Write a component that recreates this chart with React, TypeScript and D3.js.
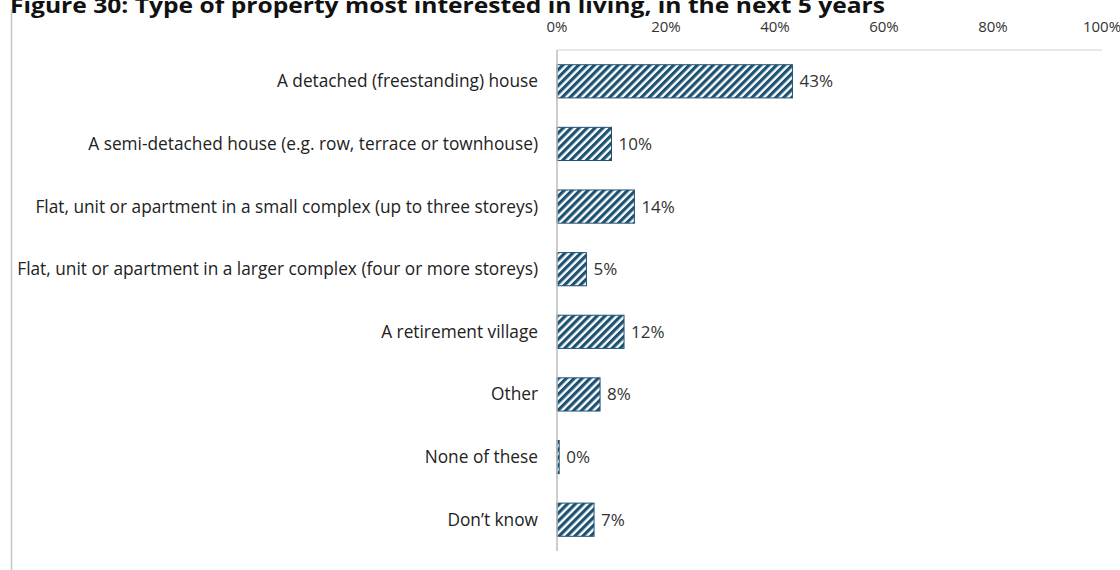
import React from "react";
import * as d3 from "d3";

const title = "Figure 30: Type of property most interested in living, in the next 5 years";
const categories = [
  "A detached (freestanding) house",
  "A semi-detached house (e.g. row, terrace or townhouse)",
  "Flat, unit or apartment in a small complex (up to three storeys)",
  "Flat, unit or apartment in a larger complex (four or more storeys)",
  "A retirement village",
  "Other",
  "None of these",
  "Don\u2019t know",
];
const values = [43.2, 10, 14.2, 5.4, 12.3, 7.9, 0.4, 6.8];
const valueLabels = ["43%", "10%", "14%", "5%", "12%", "8%", "0%", "7%"];
const xTicks = [0, 20, 40, 60, 80, 100];

const W = 1120;
const H = 570;
const FONT = "'Open Sans', sans-serif";
const BAR = "#1d5273";

export default function App() {
  const x = d3.scaleLinear().domain([0, 100]).range([557, 1102]);
  const y = d3.scaleBand<string>().domain(categories).range([50, 551]).paddingInner(0.47).paddingOuter(0.235);

  return (
    <svg width={W} height={H} style={{ position: "absolute", left: 0, top: 0, background: "#fff" }}>
      <defs>
        <pattern id="stripes" width="5.6" height="5.6" patternUnits="userSpaceOnUse" patternTransform="rotate(45)">
          <rect width="5.6" height="5.6" fill="#ffffff" />
          <rect width="3.2" height="5.6" fill={BAR} />
        </pattern>
      </defs>
      <rect x={0} y={0} width={W} height={H} fill="#fff" />
      <text x={10} y={13} fontFamily={FONT} fontWeight={700} fontSize={21} fill="#111" textLength={875} lengthAdjust="spacingAndGlyphs">
        {title}
      </text>
      <line x1={11.5} x2={11.5} y1={10} y2={H} stroke="#c4c4c4" strokeWidth={1.5} />
      {xTicks.map((t) => (
        <text key={t} x={x(t)} y={32} textAnchor="middle" fontFamily={FONT} fontSize={15} fill="#333">
          {t + "%"}
        </text>
      ))}
      <line x1={x(0)} x2={x(100)} y1={50} y2={50} stroke="#d0d0d0" strokeWidth={1} />
      {categories.map((c, i) => {
        const y0 = y(c)!;
        const bw = Math.max(x(values[i]) - x(0), 1.5);
        return (
          <g key={c}>
            <rect x={x(0)} y={y0} width={bw} height={y.bandwidth()} fill="url(#stripes)" stroke={BAR} strokeWidth={1} />
            <text x={538} y={y0 + y.bandwidth() / 2} dy="0.35em" textAnchor="end" fontFamily={FONT} fontSize={17.3} fill="#222">
              {c}
            </text>
            <text x={x(0) + bw + 7} y={y0 + y.bandwidth() / 2} dy="0.35em" fontFamily={FONT} fontSize={17} fill="#333">
              {valueLabels[i]}
            </text>
          </g>
        );
      })}
      <line x1={x(0)} x2={x(0)} y1={50} y2={551} stroke="#bdbdbd" strokeWidth={1.5} />
    </svg>
  );
}
